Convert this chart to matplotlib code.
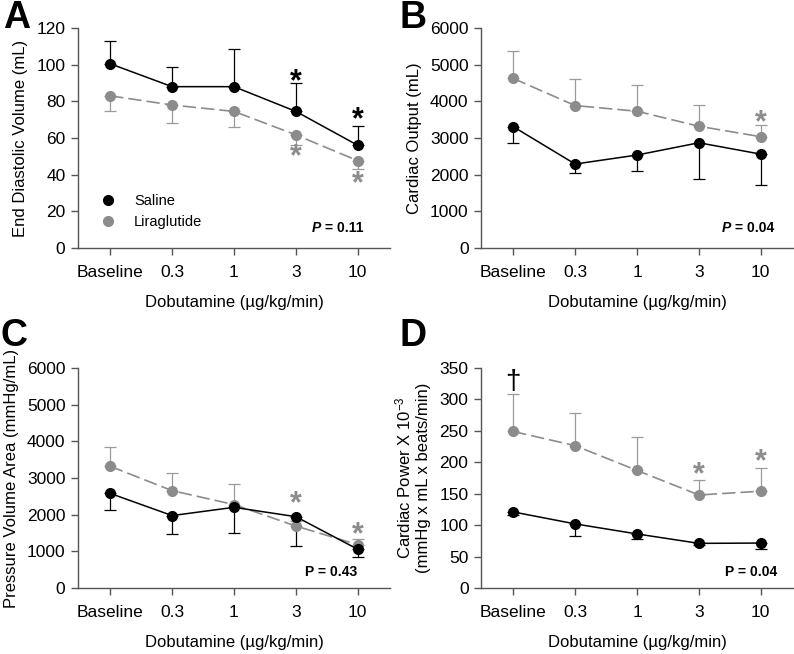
import matplotlib
matplotlib.use("Agg")
import matplotlib.pyplot as plt
from matplotlib.lines import Line2D
import numpy as np

plt.rcParams['font.family'] = ['Liberation Sans', 'DejaVu Sans']
plt.rcParams['mathtext.fontset'] = 'custom'
plt.rcParams['mathtext.rm'] = 'Liberation Sans'
plt.rcParams['mathtext.it'] = 'Liberation Sans:italic'
plt.rcParams['mathtext.bf'] = 'Liberation Sans:bold'

doses = ["Baseline", "0.3", "1", "3", "10"]

# Panel A: End diastolic volume
edv_saline = [100.5, 88, 88, 74.5, 56]
edv_saline_err = [12.2, 11, 20.5, 15.5, 10.3]      # upward
edv_lira = [83, 78, 74.5, 61.7, 47.6]
edv_lira_err = [8.5, 10, 8.3, 5.7, 4.7]            # downward

# Panel B: Cardiac output
co_saline = [3310, 2290, 2535, 2870, 2560]
co_saline_err = [457, 239, 447, 1000, 855]         # downward
co_lira = [4625, 3885, 3730, 3320, 3035]
co_lira_err = [753, 718, 718, 582, 310]            # upward

# Panel C: Pressure volume area
pva_saline = [2580, 1975, 2200, 1945, 1055]
pva_saline_err = [455, 510, 710, 800, 220]         # downward
pva_lira = [3320, 2655, 2275, 1690, 1180]
pva_lira_err = [525, 490, 570, 150, 165]           # upward

# Panel D: Cardiac power
cp_saline = [121, 102, 86, 71, 71.5]
cp_saline_err = [5, 20, 8, 2, 10]                  # downward
cp_lira = [249, 226.5, 187, 148, 154]
cp_lira_err = [59.5, 52, 53, 24, 37.5]             # upward

BLACK = "#000000"
GRAY = "#8c8c8c"
GRAY_ERR = "#9a9a9a"

W, H = 794, 654
fig = plt.figure(figsize=(W / 100, H / 100), dpi=100)

def axrect(left, right, top, bottom):
    return [left / W, 1 - bottom / H, (right - left) / W, (bottom - top) / H]

x = np.arange(len(doses))

def draw(ax, s, s_err, s_dir, l, l_err, l_dir, ymax, ystep, ylabel):
    s_yerr = [np.zeros(len(s)), s_err] if s_dir == 'up' else [s_err, np.zeros(len(s))]
    l_yerr = [np.zeros(len(l)), l_err] if l_dir == 'up' else [l_err, np.zeros(len(l))]
    ax.errorbar(x, s, yerr=s_yerr, fmt='none', ecolor=BLACK, elinewidth=0.9,
                capsize=4, capthick=0.9, zorder=2)
    ax.errorbar(x, l, yerr=l_yerr, fmt='none', ecolor=GRAY_ERR, elinewidth=0.9,
                capsize=4, capthick=0.9, zorder=2)
    ax.plot(x, l, color=GRAY, lw=1.2, dashes=(8, 3), zorder=3)
    ax.plot(x, l, 'o', color=GRAY, ms=7, zorder=4)
    ax.plot(x, s, '-', color=BLACK, lw=1.1, zorder=5)
    ax.plot(x, s, 'o', color=BLACK, ms=7, zorder=6)
    ax.set_xlim(-0.52, 4.52)
    ax.set_ylim(0, ymax)
    ax.set_yticks(np.arange(0, ymax + ystep / 2, ystep))
    ax.set_xticks(x)
    ax.set_xticklabels(doses)
    for sp in ['top', 'right']:
        ax.spines[sp].set_visible(False)
    for sp in ['left', 'bottom']:
        ax.spines[sp].set_color('#555555')
        ax.spines[sp].set_linewidth(1.0)
    ax.tick_params(axis='both', labelsize=12.5, length=5, width=1.0, color='#555555', pad=4)
    ax.tick_params(axis='x', pad=7)
    ax.set_xlabel("Dobutamine (\u00b5g/kg/min)", fontsize=12, labelpad=11)
    ax.set_ylabel(ylabel, fontsize=12, labelpad=6)

def star(ax, xi, y, color):
    ax.text(xi, y, "*", color=color, fontsize=22, fontweight='bold',
            ha='center', va='center', zorder=7)

def pval(ax, xr, yb, value, italic):
    if italic:
        t2 = ax.text(xr, yb, " = " + value, transform=ax.transAxes, fontweight='bold',
                     ha='right', va='bottom', fontsize=10)
        ax.annotate("P", xy=(0, 0), xycoords=t2, ha='right', va='bottom',
                    fontsize=10, fontweight='bold', fontstyle='italic')
    else:
        ax.text(xr, yb, "P = " + value, transform=ax.transAxes, fontweight='bold',
                ha='right', va='bottom', fontsize=10)

# A
axA = fig.add_axes(axrect(78, 390, 28, 248))
draw(axA, edv_saline, edv_saline_err, 'up', edv_lira, edv_lira_err, 'down',
     120, 20, "End Diastolic Volume (mL)")
star(axA, 3, 90.5, BLACK)
star(axA, 4, 69.5, BLACK)
star(axA, 3, 49.5, GRAY)
star(axA, 4, 35, GRAY)
pval(axA, 0.915, 0.06, "0.11", True)
handles = [Line2D([], [], marker='o', ls='none', color=BLACK, ms=7),
           Line2D([], [], marker='o', ls='none', color=GRAY, ms=7)]
axA.legend(handles, ["Saline", "Liraglutide"], loc='lower left',
           bbox_to_anchor=(0.03, 0.06), frameon=False, fontsize=10.5,
           handletextpad=0.8, labelspacing=0.45, borderaxespad=0)

# B
axB = fig.add_axes(axrect(481, 793, 28, 248))
draw(axB, co_saline, co_saline_err, 'down', co_lira, co_lira_err, 'up',
     6000, 1000, "Cardiac Output (mL)")
star(axB, 4, 3400, GRAY)
pval(axB, 0.94, 0.06, "0.04", True)

# C
axC = fig.add_axes(axrect(78, 390, 368, 588))
draw(axC, pva_saline, pva_saline_err, 'down', pva_lira, pva_lira_err, 'up',
     6000, 1000, "Pressure Volume Area (mmHg/mL)")
star(axC, 3, 2280, GRAY)
star(axC, 4, 1450, GRAY)
pval(axC, 0.895, 0.04, "0.43", False)

# D
axD = fig.add_axes(axrect(481, 793, 368, 588))
draw(axD, cp_saline, cp_saline_err, 'down', cp_lira, cp_lira_err, 'up',
     350, 50, "Cardiac Power X 10$^{-3}$\n(mmHg x mL x beats/min)")
star(axD, 3, 180, GRAY)
star(axD, 4, 200, GRAY)
axD.text(0, 328, "\u2020", color=BLACK, fontsize=20, ha='center', va='center')
pval(axD, 0.95, 0.04, "0.04", False)

# panel letters
for lbl, px, py in [("A", 3, 0), ("B", 400, 0), ("C", 0, 318), ("D", 400, 318)]:
    fig.text(px / W, 1 - py / H, lbl, fontsize=27, fontweight='bold',
             ha='left', va='top')

fig.savefig("out.png", dpi=100)
